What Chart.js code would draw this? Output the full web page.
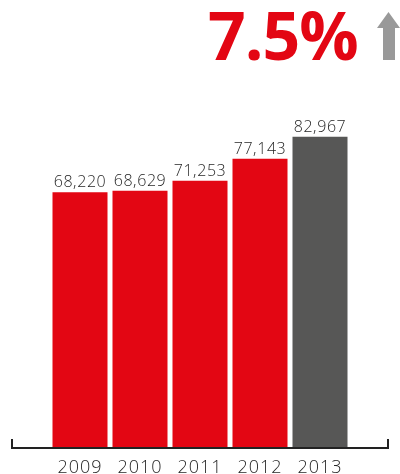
<!DOCTYPE html>
<html>
<head>
<meta charset="utf-8">
<script src="https://cdn.jsdelivr.net/npm/chart.js@4/dist/chart.umd.min.js"></script>
<style>
  html, body { margin: 0; padding: 0; background: #ffffff; }
  #wrap { position: relative; width: 400px; height: 474px; }
</style>
</head>
<body>
<div id="wrap"><canvas id="c" width="400" height="474"></canvas></div>
<script>
const years = ['2009', '2010', '2011', '2012', '2013'];
const values = [68220, 68629, 71253, 77143, 82967];
const valueLabels = ['68,220', '68,629', '71,253', '77,143', '82,967'];
const growthLabel = '7.5%';

const RED = '#e30613';
const GREY = '#575756';
const TEXT = '#262626';

const decorations = {
  id: 'decorations',
  afterDatasetsDraw(chart) {
    const ctx = chart.ctx;
    const area = chart.chartArea;
    const x = chart.scales.x;
    const y = chart.scales.y;
    const meta = chart.getDatasetMeta(0);
    const base = y.getPixelForValue(0);

    ctx.save();
    // value labels over bars
    ctx.fillStyle = TEXT;
    ctx.font = '300 16px "Open Sans"';
    ctx.letterSpacing = '0.6px';
    ctx.textAlign = 'center';
    ctx.textBaseline = 'alphabetic';
    meta.data.forEach((bar, i) => {
      ctx.fillText(valueLabels[i], bar.x, bar.y - 5);
    });

    // year labels
    ctx.font = '300 18px "Open Sans"';
    ctx.letterSpacing = '1px';
    ctx.textBaseline = 'alphabetic';
    years.forEach((yr, i) => {
      ctx.fillText(yr, x.getPixelForValue(i), base + 25);
    });
    ctx.letterSpacing = '0px';

    // bracket baseline
    ctx.strokeStyle = '#222222';
    ctx.lineWidth = 2;
    ctx.beginPath();
    ctx.moveTo(area.left - 38, base - 9);
    ctx.lineTo(area.left - 38, base);
    ctx.lineTo(area.right + 38, base);
    ctx.lineTo(area.right + 38, base - 9);
    ctx.stroke();

    // growth headline
    ctx.fillStyle = RED;
    ctx.font = '700 66px "Open Sans"';
    ctx.letterSpacing = '-1px';
    ctx.textAlign = 'left';
    ctx.textBaseline = 'alphabetic';
    ctx.fillText(growthLabel, 208, 60);
    ctx.letterSpacing = '0px';

    // up arrow
    ctx.fillStyle = '#999999';
    ctx.beginPath();
    ctx.moveTo(388.5, 12);
    ctx.lineTo(400, 28);
    ctx.lineTo(395, 28);
    ctx.lineTo(395, 60);
    ctx.lineTo(383, 60);
    ctx.lineTo(383, 28);
    ctx.lineTo(377, 28);
    ctx.closePath();
    ctx.fill();
    ctx.restore();
  }
};

new Chart(document.getElementById('c'), {
  type: 'bar',
  data: {
    labels: years,
    datasets: [{
      data: values,
      backgroundColor: [RED, RED, RED, RED, GREY],
      borderWidth: 0,
      categoryPercentage: 1.0,
      barPercentage: 55 / 60
    }]
  },
  options: {
    responsive: false,
    animation: false,
    devicePixelRatio: 1,
    layout: { padding: { top: 73, bottom: 26, left: 50, right: 50 } },
    plugins: { legend: { display: false }, tooltip: { enabled: false } },
    scales: {
      x: { display: false },
      y: { display: false, min: 0, max: 100000 }
    }
  },
  plugins: [decorations]
});
</script>
</body>
</html>
